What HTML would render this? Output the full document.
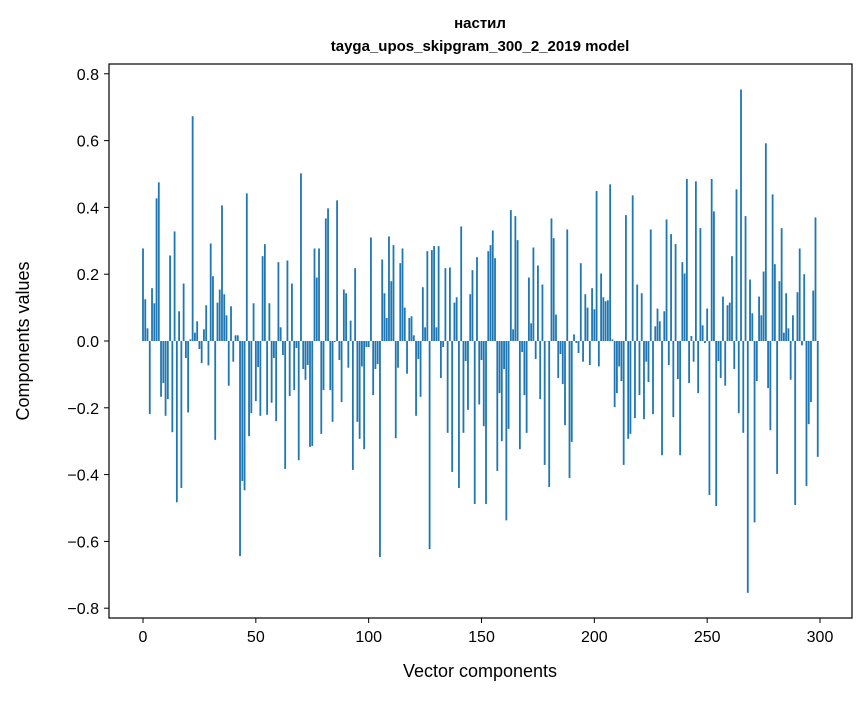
<!DOCTYPE html>
<html><head><meta charset="utf-8"><style>
body{margin:0;background:#fff;}
svg text{font-family:"Liberation Sans","DejaVu Sans",sans-serif;fill:#000;}
</style></head><body>
<svg id="chart" width="867" height="696" xmlns="http://www.w3.org/2000/svg">
<rect x="0" y="0" width="867" height="696" fill="#fff"/>
<text x="480" y="28" text-anchor="middle" font-size="15" font-weight="bold">настил</text>
<text x="480" y="51" text-anchor="middle" font-size="15" font-weight="bold">tayga_upos_skipgram_300_2_2019 model</text>
<g id="bars"></g>
<g id="xticks"></g>
<g id="yticks"></g>
<rect x="109" y="64" width="743" height="554" fill="none" stroke="#000" stroke-width="1.2"/>
<text x="480" y="677" text-anchor="middle" font-size="18">Vector components</text>
<text transform="translate(29,341) rotate(-90)" text-anchor="middle" font-size="18">Components values</text>
</svg>
<script>
const values = [
0.277,0.125,0.038,-0.219,0.158,0.113,0.427,0.475,-0.167,-0.126,
-0.224,-0.174,0.256,-0.273,0.328,-0.483,0.089,-0.44,0.172,-0.051,
-0.214,0.005,0.673,0.025,0.059,-0.024,-0.066,0.035,0.107,-0.073,
0.292,0.194,-0.296,0.115,0.154,0.406,0.14,0.077,-0.134,0.104,
-0.062,0.017,0.017,-0.644,-0.419,-0.447,0.442,-0.285,-0.216,0.113,
-0.18,-0.078,-0.224,0.254,0.29,-0.221,0.113,-0.185,-0.051,-0.24,
0.236,0.041,-0.042,-0.383,0.241,-0.165,0.172,-0.147,-0.021,-0.357,
0.502,-0.084,-0.116,-0.072,-0.317,-0.314,0.277,0.19,0.277,-0.278,
-0.147,0.367,0.397,-0.147,-0.242,-0.003,0.421,-0.057,-0.183,0.154,
0.143,-0.08,0.061,-0.386,0.218,-0.242,-0.293,-0.076,-0.324,-0.018,
-0.018,0.31,-0.162,-0.084,-0.069,-0.647,0.244,0.143,0.069,0.313,
0.179,0.287,-0.291,-0.08,0.233,0.277,0.1,-0.098,0.069,0.074,
0.017,-0.224,-0.054,-0.167,0.161,0.041,0.269,-0.623,0.272,0.284,
0.041,0.284,-0.111,-0.018,0.218,-0.275,0.22,-0.392,0.115,0.131,
-0.44,0.343,-0.275,-0.06,-0.206,0.14,0.212,-0.488,0.251,-0.19,
-0.057,-0.255,-0.488,0.269,0.287,0.331,0.248,-0.389,-0.156,-0.3,
-0.084,-0.537,-0.263,0.392,0.035,0.374,0.302,-0.324,-0.033,-0.162,
-0.275,0.19,0.053,0.28,-0.054,0.226,-0.174,0.169,-0.371,0.0,
-0.437,0.367,0.308,0.079,-0.111,-0.039,-0.129,-0.252,0.334,-0.41,
-0.302,0.02,-0.006,-0.036,0.233,-0.062,0.14,0.1,-0.072,0.158,
0.095,0.449,-0.076,0.202,0.131,0.119,0.122,0.469,0.005,-0.198,
-0.156,-0.076,-0.12,-0.371,0.377,-0.293,-0.278,0.436,-0.231,0.169,
-0.162,0.143,-0.234,-0.062,-0.123,0.334,-0.219,0.044,0.097,0.059,
-0.342,0.089,0.364,-0.072,0.32,-0.228,0.29,-0.114,-0.342,0.236,
0.202,0.485,-0.126,0.015,-0.062,0.478,-0.156,0.338,0.047,-0.006,
0.097,-0.461,0.485,0.388,-0.494,-0.06,-0.111,0.133,-0.134,0.107,
0.115,0.254,-0.084,0.454,-0.216,0.753,-0.275,0.374,-0.754,0.184,
0.083,-0.543,-0.12,0.133,0.077,0.208,0.592,-0.141,-0.267,0.439,
0.23,-0.398,0.179,0.338,0.025,0.143,0.038,-0.116,0.077,-0.491,
0.146,0.277,-0.013,0.2,-0.434,-0.249,-0.183,0.151,0.37,-0.347
];
const xTicks = [0,50,100,150,200,250,300];
const yTicks = [-0.8,-0.6,-0.4,-0.2,0.0,0.2,0.4,0.6,0.8];

const NS = "http://www.w3.org/2000/svg";
function xScale(v){ return 143 + v*(820-143)/300; }
function yScale(v){ return 341 - v*334; }
const bw = 0.8*(820-143)/300;

const bars = document.getElementById('bars');
values.forEach((v,i)=>{
  const r = document.createElementNS(NS,'rect');
  const y0 = yScale(0), y1 = yScale(v);
  r.setAttribute('x', xScale(i)-bw/2);
  r.setAttribute('y', Math.min(y0,y1));
  r.setAttribute('width', bw);
  r.setAttribute('height', Math.max(Math.abs(y1-y0),0.3));
  r.setAttribute('fill', '#1f77b4');
  
  
  bars.appendChild(r);
});

const xg = document.getElementById('xticks');
xTicks.forEach(t=>{
  const x = xScale(t);
  const l = document.createElementNS(NS,'line');
  l.setAttribute('x1',x); l.setAttribute('x2',x);
  l.setAttribute('y1',618); l.setAttribute('y2',623);
  l.setAttribute('stroke','#000');
  
  
  xg.appendChild(l);
  const tx = document.createElementNS(NS,'text');
  tx.setAttribute('x',x); tx.setAttribute('y',642);
  tx.setAttribute('text-anchor','middle'); tx.setAttribute('font-size','16');
  tx.textContent = t;
  
  
  xg.appendChild(tx);
});

const yg = document.getElementById('yticks');
yTicks.forEach(t=>{
  const y = yScale(t);
  const l = document.createElementNS(NS,'line');
  l.setAttribute('x1',104); l.setAttribute('x2',109);
  l.setAttribute('y1',y); l.setAttribute('y2',y);
  l.setAttribute('stroke','#000');
  
  
  yg.appendChild(l);
  const tx = document.createElementNS(NS,'text');
  tx.setAttribute('x',99); tx.setAttribute('y',y+6);
  tx.setAttribute('text-anchor','end'); tx.setAttribute('font-size','16');
  tx.textContent = (t<0?'\u2212':'') + Math.abs(t).toFixed(1);
  
  
  yg.appendChild(tx);
});
</script>
</body></html>
